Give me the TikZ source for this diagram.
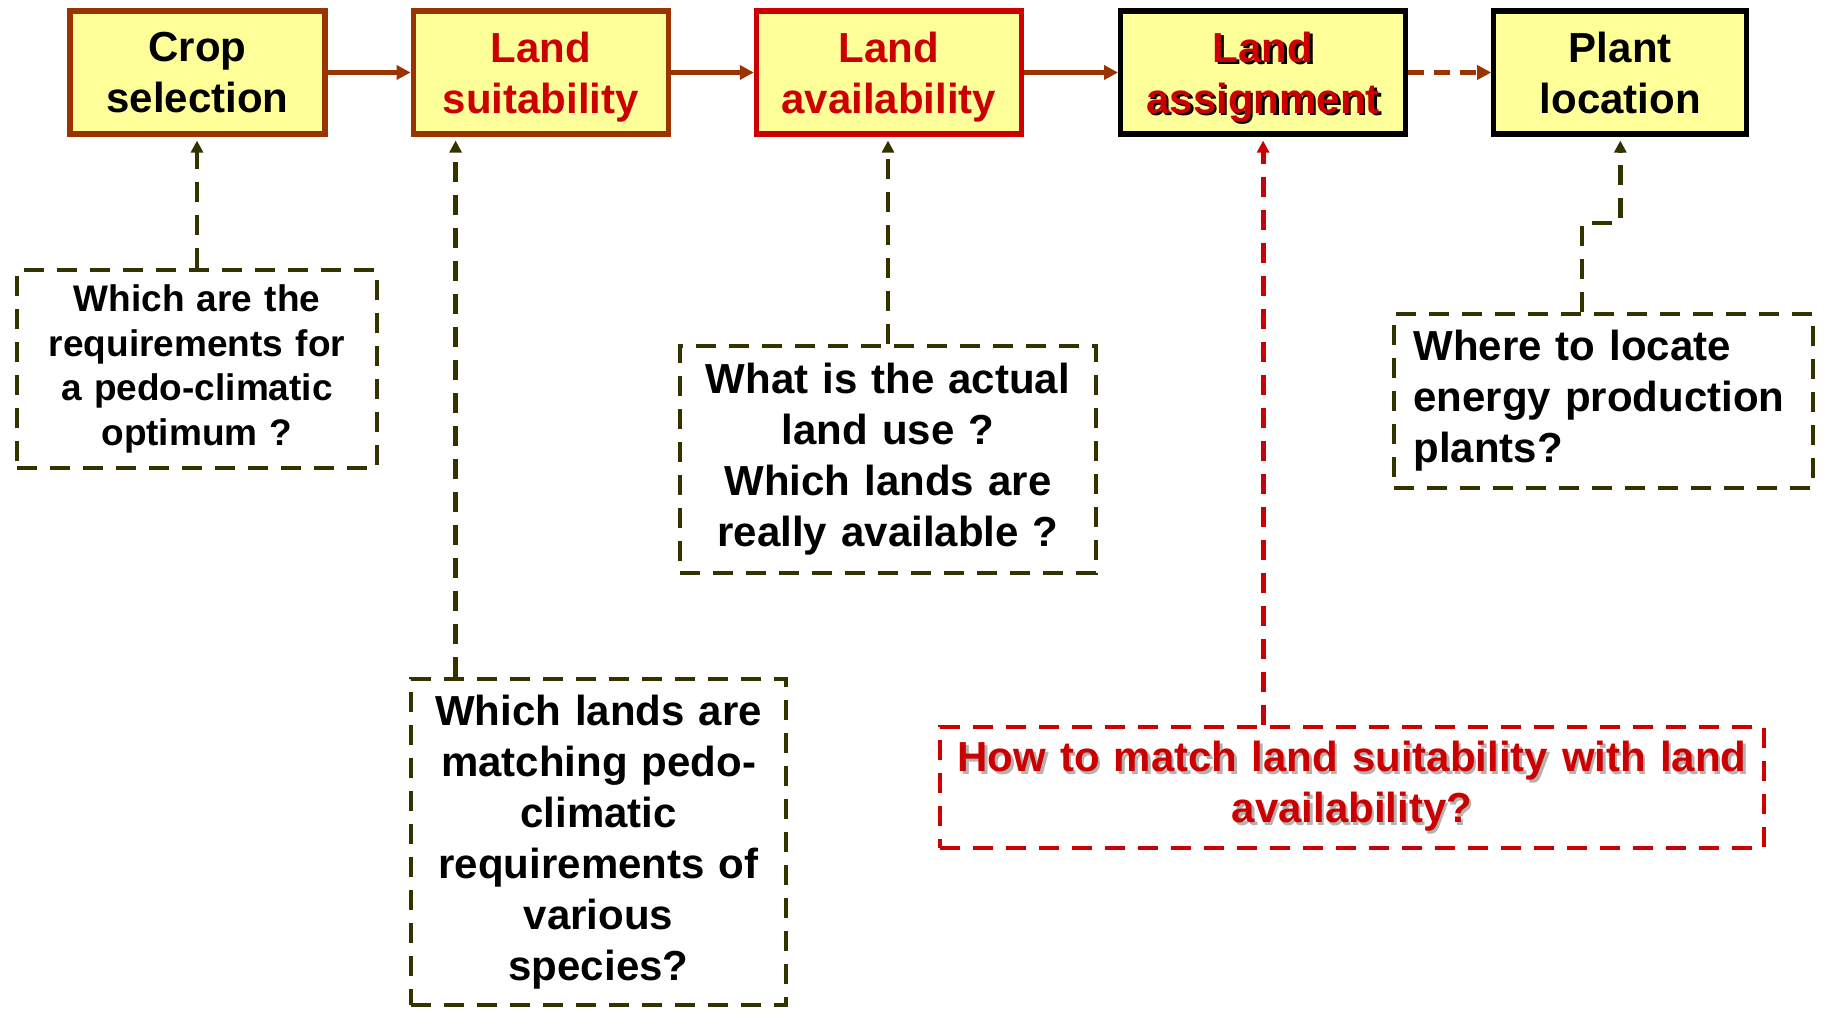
\documentclass[tikz,border=0pt]{standalone}
\usepackage{fontspec}
\setmainfont{Liberation Sans}
\usetikzlibrary{matrix,arrows.meta}

\definecolor{boxfill}{HTML}{FFFF99}
\definecolor{rust}{HTML}{993300}
\definecolor{alarm}{HTML}{CC0000}
\definecolor{olive}{HTML}{333300}

\newcommand{\dropshade}[2]{\makebox[0pt][l]{\hspace{1.2pt}\raisebox{-1.2pt}{\color{#1}#2}}#2}

\tikzset{
  stage/.style={rectangle,draw=rust,fill=boxfill,line width=2.6pt,
    minimum height=61.5pt,inner sep=0pt,text width=120pt,text depth=25.7pt,
    align=center,anchor=center,font=\bfseries\fontsize{21}{25.5}\selectfont},
  query/.style={rectangle,draw=olive,line width=2.4pt,
    dash pattern=on 10pt off 6.5pt,inner sep=0pt,align=center,
    font=\bfseries\fontsize{21}{25.5}\selectfont},
  link/.style={-{Triangle[length=7pt,width=7pt]},draw=rust,line width=2.4pt},
  hint/.style={-{Triangle[length=6pt,width=6pt]},draw=olive,line width=2.4pt,
    dash pattern=on 10pt off 6.5pt,shorten >=2pt},
}

\begin{document}
\begin{tikzpicture}[x=0.5pt,y=-0.5pt]
    \useasboundingbox (0,0) rectangle (1824,1011);

    \matrix (chain) [matrix of nodes,
            column sep=41.5pt, inner sep=0pt,
            anchor=north west,
            nodes={stage}] at (67,8)
    {
      |[minimum width=127.5pt]| {Crop\\selection} &
      |[minimum width=127.5pt,text=alarm]| {Land\\suitability} &
      |[minimum width=132.5pt,draw=alarm,text=alarm]| {Land\\availability} &[5.5pt]
      |[minimum width=142.5pt,draw=black,text=alarm]| {\dropshade{black}{Land}\\\dropshade{black}{assignment}} &
      |[minimum width=126.5pt,draw=black]| {Plant\\location} \\
    };

    \node[query,minimum width=180pt,minimum height=99pt,text width=170pt,
          font=\bfseries\fontsize{18.5}{22.3}\selectfont] (optimum) at (197,369)
        {Which are the\\requirements for\\a pedo-climatic\\optimum ?};
    \node[query,minimum width=187.5pt,minimum height=163pt,text width=180pt] (matching) at (598.5,842)
        {Which lands are\\matching pedo-\\climatic\\requirements of\\various\\species?};
    \node[query,minimum width=208pt,minimum height=113.5pt,text width=200pt] (landuse) at (888,459.5)
        {What is the actual\\land use ?\\Which lands are\\really available ?};
    \node[query,draw=alarm,text=alarm,minimum width=412pt,minimum height=60.5pt,text width=405pt] (match) at (1352,787.5)
        {\dropshade{gray!60}{How to match land suitability with land}\\\dropshade{gray!60}{availability?}};
    \node[query,align=left,minimum width=209.5pt,minimum height=87pt,text width=190pt] (siting) at (1603.5,401)
        {Where to locate\\energy production\\plants?};

	%% Main chain of steps.
	\draw[link] (chain-1-1) -- (chain-1-2);
	\draw[link] (chain-1-2) -- (chain-1-3);
	\draw[link] (chain-1-3) -- (chain-1-4);
	\draw[link,dash pattern=on 8pt off 5pt] (chain-1-4) -- (chain-1-5);

	%% Each question points up to its step.
	\coordinate (matchtap) at ([xshift=23.5pt]matching.north west);
	\coordinate (sitebend) at (1582,223);
	\draw[hint] (optimum.north) -- (optimum.north |- chain-1-1.south);
	\draw[hint] (matchtap) -- (matchtap |- chain-1-2.south);
	\draw[hint] (landuse.north) -- (landuse.north |- chain-1-3.south);
	\draw[hint,draw=alarm] (match.north -| chain-1-4.south) -- (chain-1-4.south);
	\draw[hint] (siting.north -| sitebend) -- (sitebend) -| (chain-1-5.south);
  \end{tikzpicture}
\end{document}
